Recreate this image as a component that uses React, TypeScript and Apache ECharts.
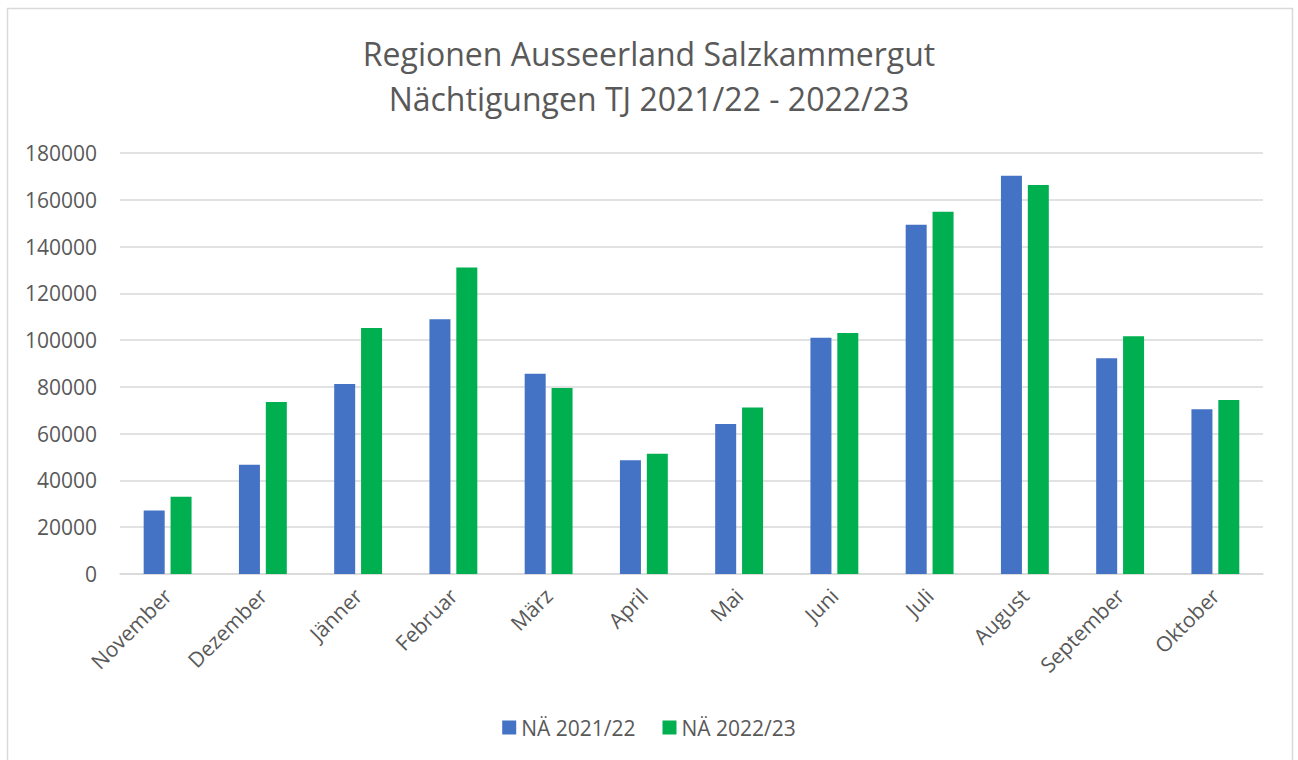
import React, { useEffect, useRef } from "react";
import * as echarts from "echarts";

const categories = [
  "November", "Dezember", "Jänner", "Februar", "März", "April",
  "Mai", "Juni", "Juli", "August", "September", "Oktober",
];
const series2122 = [27100, 46700, 81200, 108900, 85600, 48600, 64100, 101000, 149300, 170300, 92200, 70400];
const series2223 = [33000, 73500, 105200, 131000, 79500, 51400, 71200, 103000, 154900, 166300, 101600, 74400];
const seriesNames = ["NÄ 2021/22", "NÄ 2022/23"];
const titleLines = ["Regionen Ausseerland Salzkammergut", "Nächtigungen TJ 2021/22 - 2022/23"];

const FONT = "'Open Sans', 'Noto Sans', sans-serif";
const TXT = "#595959";

export default function App() {
  const ref = useRef<HTMLDivElement>(null);
  useEffect(() => {
    if (!ref.current) return;
    const chart = echarts.init(ref.current, null, { renderer: "svg" });
    chart.setOption({
      animation: false,
      backgroundColor: "#ffffff",
      textStyle: { fontFamily: FONT },
      title: {
        text: titleLines.join("\n"),
        left: "center",
        top: 26,
        textStyle: {
          fontFamily: FONT,
          fontSize: 32,
          fontWeight: "normal",
          color: TXT,
          lineHeight: 45,
        },
      },
      graphic: [
        {
          type: "rect",
          shape: { x: 7.5, y: 8.5, width: 1285, height: 770 },
          style: { fill: "none", stroke: "#d9d9d9", lineWidth: 1.5 },
          silent: true,
        },
      ],
      legend: {
        data: seriesNames,
        top: 712,
        left: "center",
        icon: "rect",
        itemWidth: 14,
        itemHeight: 14,
        itemGap: 27,
        textStyle: { fontFamily: FONT, fontSize: 21, color: TXT },
      },
      grid: { left: 120, right: 35, top: 153, bottom: 186, containLabel: false },
      xAxis: {
        type: "category",
        data: categories,
        axisLine: { show: true, lineStyle: { color: "#d9d9d9", width: 1.5 } },
        axisTick: { show: false },
        axisLabel: {
          rotate: 45,
          fontFamily: FONT,
          fontSize: 21,
          color: TXT,
          margin: 18,
          interval: 0,
        },
      },
      yAxis: {
        type: "value",
        min: 0,
        max: 180000,
        interval: 20000,
        axisLine: { show: false },
        axisTick: { show: false },
        splitLine: { lineStyle: { color: "#d9d9d9", width: 1.5 } },
        axisLabel: {
          fontFamily: FONT,
          fontSize: 21,
          color: TXT,
          margin: 23,
          formatter: (v: number) => String(v),
        },
      },
      series: [
        {
          name: seriesNames[0],
          type: "bar",
          data: series2122,
          barWidth: 21,
          barGap: "28%",
          itemStyle: { color: "#4472C4" },
        },
        {
          name: seriesNames[1],
          type: "bar",
          data: series2223,
          barWidth: 21,
          barGap: "28%",
          itemStyle: { color: "#00B050" },
        },
      ],
    });
    return () => chart.dispose();
  }, []);
  return (
    <div
      ref={ref}
      style={{ position: "fixed", left: 0, top: 0, width: 1298, height: 760, background: "#fff" }}
    />
  );
}
